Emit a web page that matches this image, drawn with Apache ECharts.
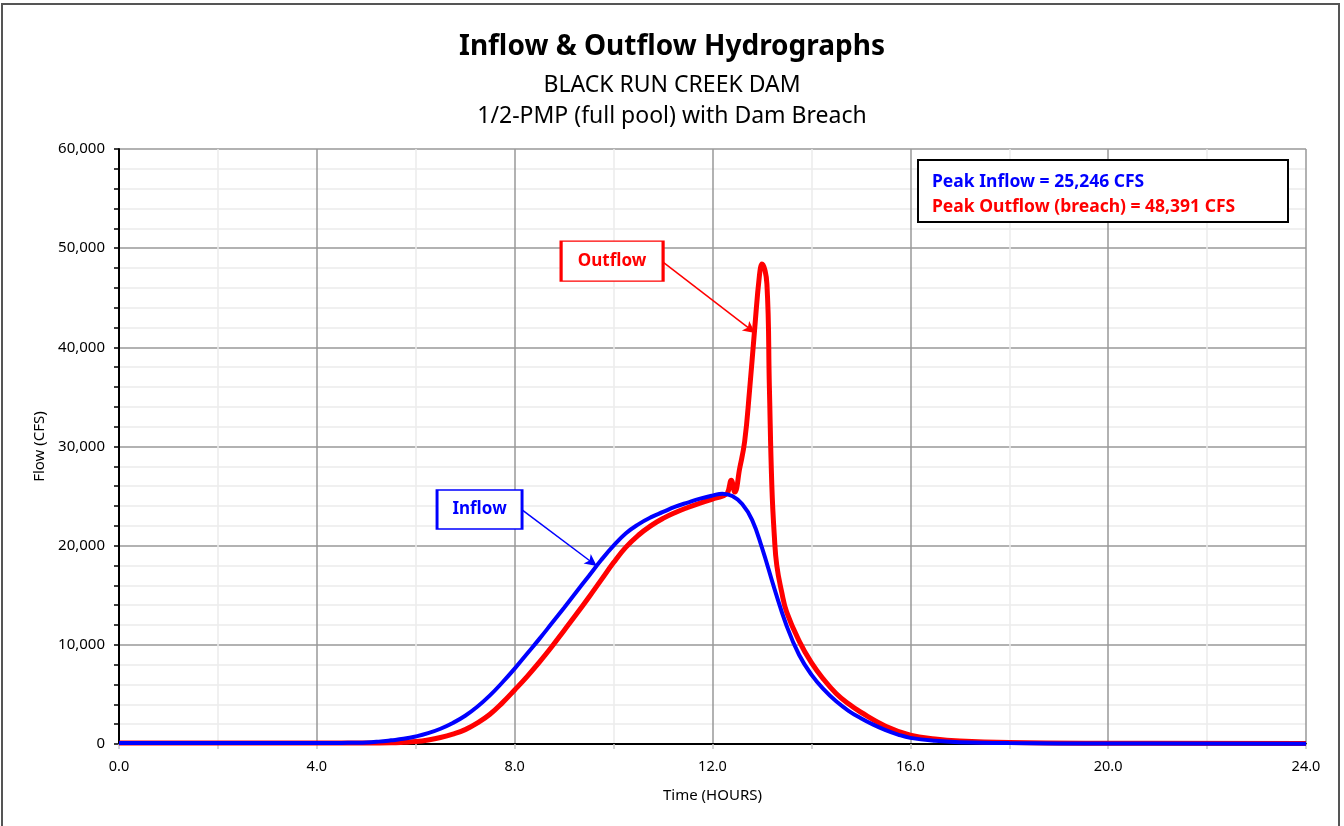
<!DOCTYPE html>
<html>
<head>
<meta charset="utf-8">
<script src="https://cdn.jsdelivr.net/npm/echarts@6/dist/echarts.min.js"></script>
<style>
html,body{margin:0;padding:0;background:#fff;}
#chart{width:1344px;height:826px;}
</style>
</head>
<body>
<div id="chart"></div>
<script>
const titleText = 'Inflow & Outflow Hydrographs';
const subtitle1 = 'BLACK RUN CREEK DAM';
const subtitle2 = '1/2-PMP (full pool) with Dam Breach';
const xAxisName = 'Time (HOURS)';
const yAxisName = 'Flow (CFS)';

const inflowTime = [0, 4, 4.5, 4.75, 5, 5.25, 5.5, 5.75, 6, 6.25, 6.5, 6.75, 7, 7.25, 7.5, 7.75, 8, 8.25, 8.5, 8.75, 9, 9.25, 9.5, 9.75, 10, 10.25, 10.5, 10.75, 11, 11.25, 11.5, 11.75, 12, 12.2, 12.4, 12.6, 12.8, 13, 13.25, 13.5, 13.75, 14, 14.25, 14.5, 14.75, 15, 15.25, 15.5, 15.75, 16, 16.5, 17, 18, 20, 24];
const inflowCfs  = [100, 100, 110, 125, 150, 240, 370, 520, 760, 1090, 1540, 2120, 2850, 3780, 4900, 6200, 7600, 9100, 10600, 12170, 13750, 15350, 16950, 18550, 20000, 21250, 22150, 22850, 23400, 23930, 24350, 24740, 25050, 25246, 25000, 24200, 22600, 19800, 15700, 11900, 9000, 7000, 5500, 4300, 3350, 2600, 1950, 1400, 950, 620, 320, 180, 90, 50, 30];

const outflowTime = [0, 5, 5.5, 5.75, 6, 6.25, 6.5, 6.75, 7, 7.25, 7.5, 7.75, 8, 8.25, 8.5, 8.75, 9, 9.25, 9.5, 9.75, 10, 10.25, 10.5, 10.75, 11, 11.25, 11.5, 11.75, 12, 12.2, 12.3, 12.38, 12.45, 12.55, 12.65, 12.75, 12.85, 12.95, 13.0, 13.1, 13.15, 13.2, 13.25, 13.3, 13.4, 13.5, 13.75, 14, 14.25, 14.5, 14.75, 15, 15.5, 16, 16.5, 17, 18, 20, 24];
const outflowCfs  = [100, 100, 120, 170, 250, 410, 650, 990, 1450, 2130, 3000, 4150, 5450, 6800, 8250, 9800, 11450, 13100, 14800, 16550, 18300, 19850, 21050, 22000, 22750, 23350, 23850, 24300, 24700, 25000, 25300, 26600, 25400, 27800, 30500, 35700, 41700, 47300, 48391, 46400, 36000, 26000, 21000, 18000, 15300, 13300, 10400, 8200, 6500, 5100, 4050, 3200, 1800, 900, 500, 300, 150, 80, 50];

const xTicks = {min: 0, max: 24, interval: 4};
const yTicks = {min: 0, max: 60000, interval: 10000};

// annotation anchors in data coordinates
const outflowLabelAt = [9.97, 48700];
const outflowArrowFrom = [11.0, 48600];
const outflowArrowTo = [12.86, 41450];
const inflowLabelAt = [7.29, 23650];
const inflowArrowFrom = [8.15, 23600];
const inflowArrowTo = [9.66, 17950];

function fmt(n){ return String(Math.round(n)).replace(/\B(?=(\d{3})+(?!\d))/g, ','); }
const pair = (ts, vs) => ts.map((t, i) => [t, vs[i]]);

const FONT = '"Noto Sans", "Open Sans", sans-serif';
const peakIn = Math.max(...inflowCfs);
const peakOut = Math.max(...outflowCfs);

const chart = echarts.init(document.getElementById('chart'), null, {renderer: 'canvas'});
chart.setOption({
  animation: false,
  backgroundColor: '#fff',
  textStyle: {fontFamily: FONT},
  title: [
    {text: titleText, left: 'center', top: 30, padding: 0,
     textStyle: {fontFamily: FONT, fontSize: 28, fontWeight: 'bold', color: '#000', lineHeight: 34}},
    {text: subtitle1, left: 'center', top: 71, padding: 0,
     textStyle: {fontFamily: FONT, fontSize: 23, fontWeight: 'normal', color: '#000', lineHeight: 28}},
    {text: subtitle2, left: 'center', top: 102, padding: 0,
     textStyle: {fontFamily: FONT, fontSize: 23, fontWeight: 'normal', color: '#000', lineHeight: 28}}
  ],
  grid: {left: 119, right: 38, top: 149, bottom: 82, containLabel: false},
  xAxis: [{
    type: 'value', min: xTicks.min, max: xTicks.max, interval: xTicks.interval,
    name: xAxisName, nameLocation: 'middle', nameGap: 44,
    nameTextStyle: {fontFamily: FONT, fontSize: 15, color: '#000'},
    axisLine: {show: true, onZero: false, lineStyle: {color: '#c0c0c0', width: 2}},
    axisTick: {show: true, length: 5, lineStyle: {color: '#c8c8c8', width: 1.5}},
    minorTick: {show: true, splitNumber: 2, length: 5, lineStyle: {color: '#c8c8c8', width: 1.5}},
    axisLabel: {margin: 15, fontFamily: FONT, fontSize: 14.5, color: '#000', formatter: v => v.toFixed(1)},
    splitLine: {show: true, lineStyle: {color: '#999', width: 1.5}},
    minorSplitLine: {show: true, lineStyle: {color: '#ebebeb', width: 1.5}}
  }, {
    type: 'value', position: 'top', min: xTicks.min, max: xTicks.max, interval: xTicks.interval,
    axisLine: {show: true, lineStyle: {color: '#000', width: 2}},
    axisTick: {show: false}, axisLabel: {show: false}, splitLine: {show: false}
  }],
  yAxis: {
    type: 'value', min: yTicks.min, max: yTicks.max, interval: yTicks.interval,
    name: yAxisName, nameLocation: 'middle', nameGap: 72, nameRotate: 90,
    nameTextStyle: {fontFamily: FONT, fontSize: 15, color: '#000'},
    axisLine: {show: true, lineStyle: {color: '#000', width: 2}},
    axisTick: {show: true, length: 5, lineStyle: {color: '#000', width: 1.5}},
    minorTick: {show: true, splitNumber: 5, length: 5, lineStyle: {color: '#000', width: 1.5}},
    axisLabel: {margin: 14, fontFamily: FONT, fontSize: 15, color: '#000', formatter: v => fmt(v)},
    splitLine: {show: true, lineStyle: {color: '#999', width: 1.5}},
    minorSplitLine: {show: true, lineStyle: {color: '#ebebeb', width: 1.5}}
  },
  series: [
    {
      name: 'Outflow', type: 'line', data: pair(outflowTime, outflowCfs),
      showSymbol: false, smooth: 0.45, z: 3,
      lineStyle: {color: '#ff0000', width: 5},
      markPoint: {
        silent: true, symbol: 'rect', symbolSize: [102, 40],
        itemStyle: {color: '#fff', borderColor: '#ff0000', borderWidth: 2},
        label: {show: true, position: 'inside', formatter: 'Outflow', color: '#ff0000',
                fontFamily: FONT, fontSize: 17, fontWeight: 'bold'},
        data: [{coord: outflowLabelAt}]
      },
      markLine: {
        silent: true, symbol: ['none', 'arrow'], symbolSize: [9, 12],
        label: {show: false},
        lineStyle: {color: '#ff0000', width: 1.5, type: 'solid'},
        data: [[{coord: outflowArrowFrom}, {coord: outflowArrowTo}]]
      }
    },
    {
      name: 'Inflow', type: 'line', data: pair(inflowTime, inflowCfs),
      showSymbol: false, smooth: 0.45, z: 4,
      lineStyle: {color: '#0000ff', width: 4},
      markPoint: {
        silent: true, symbol: 'rect', symbolSize: [85, 39],
        itemStyle: {color: '#fff', borderColor: '#0000ff', borderWidth: 2},
        label: {show: true, position: 'inside', formatter: 'Inflow', color: '#0000ff',
                fontFamily: FONT, fontSize: 17, fontWeight: 'bold'},
        data: [{coord: inflowLabelAt}]
      },
      markLine: {
        silent: true, symbol: ['none', 'arrow'], symbolSize: [9, 12],
        label: {show: false},
        lineStyle: {color: '#0000ff', width: 1.5, type: 'solid'},
        data: [[{coord: inflowArrowFrom}, {coord: inflowArrowTo}]]
      }
    }
  ],
  graphic: [
    {type: 'rect', silent: true, z: 0,
     shape: {x: 2, y: 4, width: 1337, height: 840},
     style: {fill: 'none', stroke: '#555', lineWidth: 2}},
    {type: 'rect', silent: true, z: 10,
     shape: {x: 918, y: 160, width: 370, height: 62},
     style: {fill: '#fff', stroke: '#000', lineWidth: 2}},
    {type: 'text', silent: true, z: 11, x: 932, y: 182,
     style: {text: 'Peak Inflow = ' + fmt(peakIn) + ' CFS', fill: '#0000ff',
             font: 'bold 17.5px ' + FONT, textAlign: 'left', textVerticalAlign: 'middle', verticalAlign: 'middle'}},
    {type: 'text', silent: true, z: 11, x: 932, y: 207,
     style: {text: 'Peak Outflow (breach) = ' + fmt(peakOut) + ' CFS', fill: '#ff0000',
             font: 'bold 17.5px ' + FONT, textAlign: 'left', textVerticalAlign: 'middle', verticalAlign: 'middle'}}
  ]
});
</script>
</body>
</html>
